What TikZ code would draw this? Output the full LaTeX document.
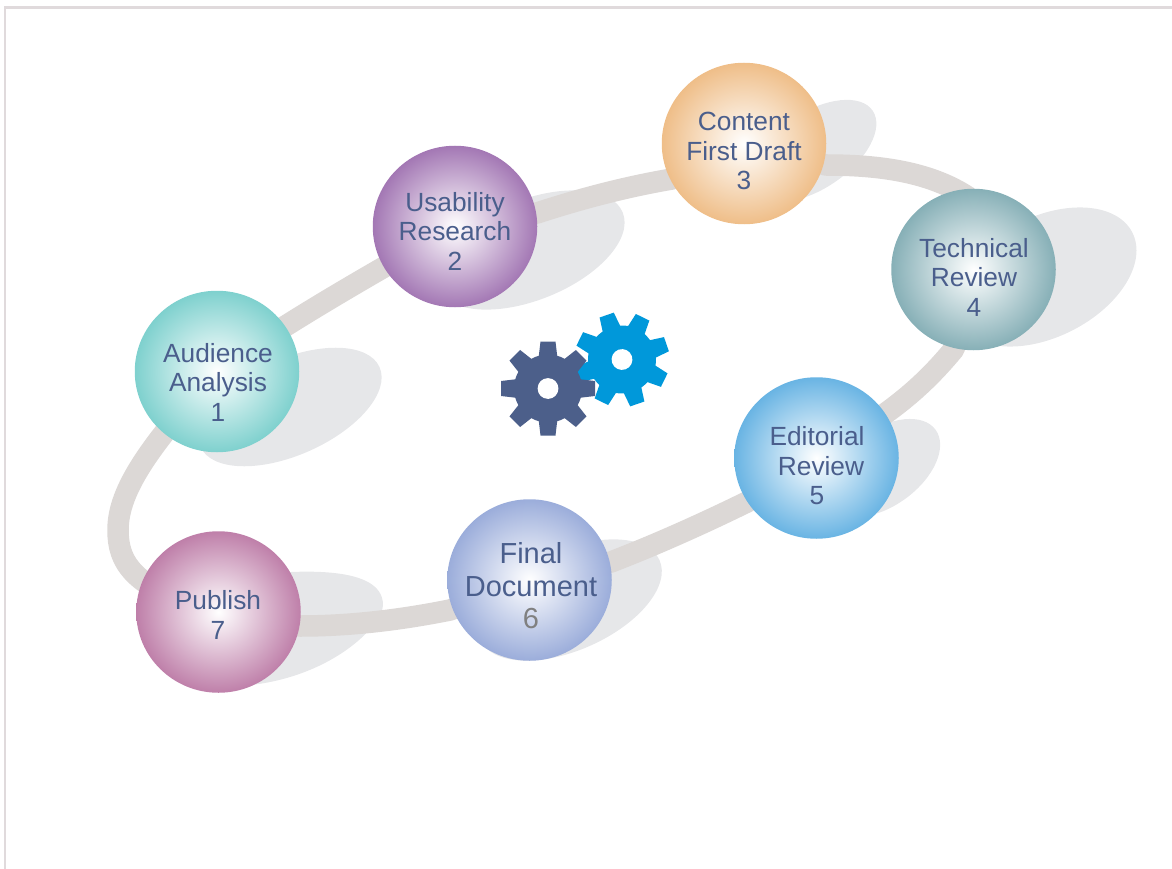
\documentclass[tikz,border=0pt]{standalone}
\usepackage{fontspec}
\setmainfont{Liberation Sans}
\usetikzlibrary{shapes.geometric,backgrounds}
\definecolor{ringc}{HTML}{DCD8D6}
\definecolor{shadowc}{HTML}{E6E7E9}
\definecolor{txtc}{HTML}{4A5E8C}
\definecolor{framec}{HTML}{E0DADC}
\definecolor{gearA}{HTML}{4C5F8A}
\definecolor{gearB}{HTML}{0098DA}
\definecolor{cA}{HTML}{6FCBC8}
\definecolor{cB}{HTML}{9867AB}
\definecolor{cC}{HTML}{EDB67A}
\definecolor{cD}{HTML}{78A6AE}
\definecolor{cE}{HTML}{57ABE0}
\definecolor{cF}{HTML}{8FA3D6}
\definecolor{cG}{HTML}{B7709F}
\pgfdeclareradialshading{ballA}{\pgfpoint{0bp}{0bp}}{color(0bp)=(white);color(28bp)=(cA)}
\pgfdeclareradialshading{ballB}{\pgfpoint{0bp}{0bp}}{color(0bp)=(white);color(28bp)=(cB)}
\pgfdeclareradialshading{ballC}{\pgfpoint{0bp}{0bp}}{color(0bp)=(white);color(28bp)=(cC)}
\pgfdeclareradialshading{ballD}{\pgfpoint{0bp}{0bp}}{color(0bp)=(white);color(28bp)=(cD)}
\pgfdeclareradialshading{ballE}{\pgfpoint{0bp}{0bp}}{color(0bp)=(white);color(28bp)=(cE)}
\pgfdeclareradialshading{ballF}{\pgfpoint{0bp}{0bp}}{color(0bp)=(white);color(28bp)=(cF)}
\pgfdeclareradialshading{ballG}{\pgfpoint{0bp}{0bp}}{color(0bp)=(white);color(28bp)=(cG)}
\tikzset{
  ball/.style={ellipse,minimum width=164.5pt,minimum height=161.5pt,inner sep=0pt,shading=#1},
  lbl/.style={align=center,text=txtc,inner sep=0pt,font=\fontsize{26.3}{29.5}\selectfont},
  lblbig/.style={align=center,text=txtc,inner sep=0pt,font=\fontsize{29}{32.5}\selectfont},
  ringseg/.style={draw=ringc,line width=21.5pt,line cap=butt,line join=round},
  shadowblob/.style={fill=shadowc},
  framel/.style={draw=framec,line width=2.3pt}
}
\newcommand{\gearshape}[4]{% centre, rotation, colour, name
  \begin{scope}[shift={#1},rotate=#2]
    \fill[#3] (0,0) circle[radius=34];
    \foreach \a in {0,45,...,315}
      \fill[#3,rotate=\a] (30,-9.5) -- (47,-7.5) -- (47,7.5) -- (30,9.5) -- cycle;
    \fill[white] (0,0) circle[radius=10.4];
  \end{scope}}
\begin{document}
\begin{tikzpicture}[x=1pt,y=-1pt]
\useasboundingbox (0,0) rectangle (1172,869);
\draw[framel] (5.3,869) -- (5.3,7.6) -- (1172,7.6);
% balls
\node[ball=ballA] (c1) at (217,371.5) {};
\node[ball=ballB] (c2) at (455,226.5) {};
\node[ball=ballC] (c3) at (744,143.5) {};
\node[ball=ballD] (c4) at (973.5,269.5) {};
\node[ball=ballE] (c5) at (816.5,458) {};
\node[ball=ballF] (c6) at (529.5,580) {};
\node[ball=ballG] (c7) at (218.5,612) {};
\node[lbl] (t1) at (218,382) {Audience\\Analysis\\1};
\node[lbl] (t2) at (455,231) {Usability\\Research\\2};
\node[lbl] (t3) at (744,151) {Content\\First Draft\\3};
\node[lbl] (t4) at (974,277) {Technical\\Review\\4};
\node[lbl] (t5) at (817,466) {Editorial\\\hspace*{8pt}Review\\5};
\node[lblbig] (t6) at (531,586) {Final\\Document\\\textcolor[HTML]{808080}{6}};
\node[lbl] (t7) at (218,615) {Publish\\7};
\begin{pgfonlayer}{background}
  \fill[shadowblob,rotate around={24:(290,407)}] (290,407) ellipse[x radius=98,y radius=48];
  \fill[shadowblob,rotate around={22:(530,250)}] (530,250) ellipse[x radius=100,y radius=50];
  \fill[shadowblob,rotate around={34:(813,151)}] (813,151) ellipse[x radius=72,y radius=38];
  \fill[shadowblob,rotate around={27:(1045,277)}] (1045,277) ellipse[x radius=98,y radius=60];
  \fill[shadowblob,rotate around={36:(883,468)}] (883,468) ellipse[x radius=65,y radius=38];
  \fill[shadowblob,rotate around={24:(570,600)}] (570,600) ellipse[x radius=98,y radius=50];
  \fill[shadowblob] (250,575) .. controls (300,570) and (383,565) .. (383,605)
     .. controls (383,625) and (330,680) .. (240,686) -- cycle;
  \draw[ringseg] (c1.center) .. controls (290,320) and (370,275) .. (c2.center);
  \draw[ringseg] (c2.center) -- (537,213) .. controls (580,199) and (625,187) .. (672,179) -- (c3.center);
  \draw[ringseg] (c3.center) -- (826,165) .. controls (880,165) and (930,172) .. (968,197) -- (c4.center);
  \draw[ringseg] (c4.center) -- (954,349) .. controls (935,372) and (915,392) .. (886,413) -- (c5.center);
  \draw[ringseg] (c5.center) -- (747,502) .. controls (700,525) and (655,545) .. (611,562) -- (c6.center);
  \draw[ringseg] (c6.center) -- (450,610) .. controls (400,620) and (350,626) .. (300,626) -- (c7.center);
  \draw[ringseg] (c7.center) .. controls (130,590) and (118,560) .. (118,530)
     .. controls (118,490) and (150,445) .. (c1.center);
\end{pgfonlayer}
\gearshape{(622,359.5)}{19}{gearB}{g2}
\gearshape{(548,388.5)}{0}{gearA}{g1}
\end{tikzpicture}
\end{document}
